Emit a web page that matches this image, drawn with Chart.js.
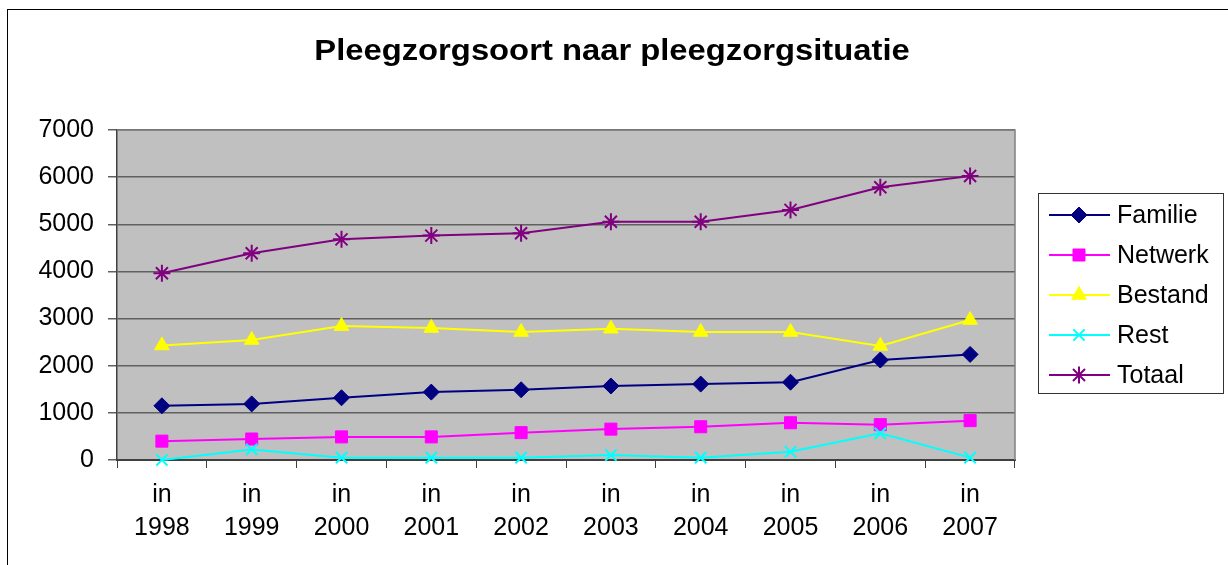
<!DOCTYPE html>
<html>
<head>
<meta charset="utf-8">
<script src="https://cdn.jsdelivr.net/npm/chart.js@4.4.0/dist/chart.umd.min.js"></script>
<style>
  html, body { margin: 0; padding: 0; background: #fff; }
  canvas { display: block; }
</style>
</head>
<body>
<canvas id="grafiek" width="1228" height="565"></canvas>
<script>
var jaren = [['in','1998'],['in','1999'],['in','2000'],['in','2001'],['in','2002'],
             ['in','2003'],['in','2004'],['in','2005'],['in','2006'],['in','2007']];
var familie = [1150, 1190, 1320, 1440, 1490, 1570, 1610, 1650, 2120, 2240];
var netwerk = [400, 445, 490, 490, 580, 655, 705, 790, 750, 835];
var bestand = [2430, 2545, 2840, 2800, 2715, 2785, 2715, 2715, 2420, 2970];
var rest    = [0, 225, 50, 50, 50, 105, 50, 175, 565, 50];
var totaal  = [3960, 4385, 4680, 4760, 4810, 5055, 5055, 5305, 5785, 6025];
var yTicks  = [0, 1000, 2000, 3000, 4000, 5000, 6000, 7000];
var titel = 'Pleegzorgsoort naar pleegzorgsituatie';

var FONT = 'Arial, "Liberation Sans", sans-serif';

function serie(label, data, kleur, stijl, radius, order) {
  var open = (stijl === 'crossRot' || stijl === 'star');
  return {
    label: label,
    data: data,
    borderColor: kleur,
    backgroundColor: kleur,
    borderWidth: 2,
    pointStyle: stijl,
    pointRadius: radius,
    pointHoverRadius: radius,
    pointBackgroundColor: kleur,
    pointBorderColor: kleur,
    pointBorderWidth: open ? 2 : 1,
    tension: 0,
    fill: false,
    clip: false,
    order: order
  };
}

// Achtergrond, kader, titel en legenda
var excelLook = {
  id: 'excelLook',
  beforeDraw: function(chart) {
    var ctx = chart.ctx, a = chart.chartArea;
    ctx.save();
    ctx.fillStyle = '#fff';
    ctx.fillRect(0, 0, chart.width, chart.height);
    ctx.strokeStyle = '#000';
    ctx.lineWidth = 1;
    ctx.strokeRect(7.5, 9.5, chart.width + 10, chart.height + 10);
    ctx.fillStyle = '#c0c0c0';
    ctx.fillRect(a.left, a.top, a.right - a.left, a.bottom - a.top);
    ctx.restore();
  },
  afterDatasetsDraw: function(chart) {
    var ctx = chart.ctx, a = chart.chartArea;
    ctx.save();
    ctx.strokeStyle = '#808080';
    ctx.lineWidth = 1.5;
    ctx.beginPath();
    ctx.moveTo(a.left, a.top);
    ctx.lineTo(a.right, a.top);
    ctx.lineTo(a.right, a.bottom);
    ctx.stroke();

    // titel (Excel rekt de tekst wat uit in de breedte)
    ctx.save();
    ctx.fillStyle = '#000';
    ctx.font = 'bold 29px ' + FONT;
    ctx.textAlign = 'center';
    ctx.textBaseline = 'alphabetic';
    ctx.translate(612, 60);
    ctx.scale(1.13, 1);
    ctx.fillText(titel, 0, 0);
    ctx.restore();

    // legenda
    var lx = 1038.5, ly = 193.5, lw = 185, lh = 200;
    ctx.fillStyle = '#fff';
    ctx.fillRect(lx, ly, lw, lh);
    ctx.strokeStyle = '#333';
    ctx.lineWidth = 1;
    ctx.strokeRect(lx, ly, lw, lh);
    ctx.font = '25px ' + FONT;
    ctx.textAlign = 'left';
    ctx.textBaseline = 'middle';
    chart.data.datasets.forEach(function(ds, i) {
      var y = 215 + i * 40;
      ctx.strokeStyle = ds.borderColor;
      ctx.lineWidth = 2;
      ctx.beginPath();
      ctx.moveTo(1049, y);
      ctx.lineTo(1110, y);
      ctx.stroke();
      ctx.fillStyle = ds.pointBackgroundColor;
      ctx.strokeStyle = ds.pointBorderColor;
      ctx.lineWidth = ds.pointBorderWidth;
      Chart.helpers.drawPoint(ctx, { pointStyle: ds.pointStyle, radius: ds.pointRadius, rotation: 0, borderWidth: ds.pointBorderWidth }, 1079, y);
      ctx.fillStyle = '#000';
      ctx.fillText(ds.label, 1117, y + 1);
    });
    ctx.restore();
  }
};

new Chart(document.getElementById('grafiek'), {
  type: 'line',
  data: {
    labels: jaren,
    datasets: [
      serie('Familie', familie, '#000080', 'rectRot', 8, 5),
      serie('Netwerk', netwerk, '#ff00ff', 'rect', 8.5, 4),
      serie('Bestand', bestand, '#ffff00', 'triangle', 8.5, 3),
      serie('Rest', rest, '#00ffff', 'crossRot', 8, 2),
      serie('Totaal', totaal, '#800080', 'star', 8.5, 1)
    ]
  },
  options: {
    responsive: false,
    animation: false,
    devicePixelRatio: 1,
    layout: { padding: { top: 130, right: 213, bottom: 25, left: 0 } },
    plugins: {
      legend: { display: false },
      title: { display: false },
      tooltip: { enabled: false }
    },
    scales: {
      x: {
        offset: true,
        afterFit: function(s) { s.height = 80; },
        grid: { offset: true, drawOnChartArea: false, drawTicks: true, tickLength: 8, color: '#404040', lineWidth: 1 },
        border: { display: true, color: '#404040', width: 2 },
        ticks: { color: '#000', font: { family: FONT, size: 25, lineHeight: 1.3 }, padding: 11, maxRotation: 0, autoSkip: false }
      },
      y: {
        min: 0,
        max: 7000,
        afterFit: function(s) { s.width = 117; },
        afterBuildTicks: function(s) { s.ticks = yTicks.map(function(v) { return { value: v }; }); },
        grid: { color: '#606060', lineWidth: 1.5, tickLength: 9, tickColor: '#606060' },
        border: { display: true, color: '#404040', width: 1.5 },
        ticks: {
          color: '#000', font: { family: FONT, size: 25 }, padding: 14,
          callback: function(v) { return String(v); }
        }
      }
    }
  },
  plugins: [excelLook]
});
</script>
</body>
</html>
